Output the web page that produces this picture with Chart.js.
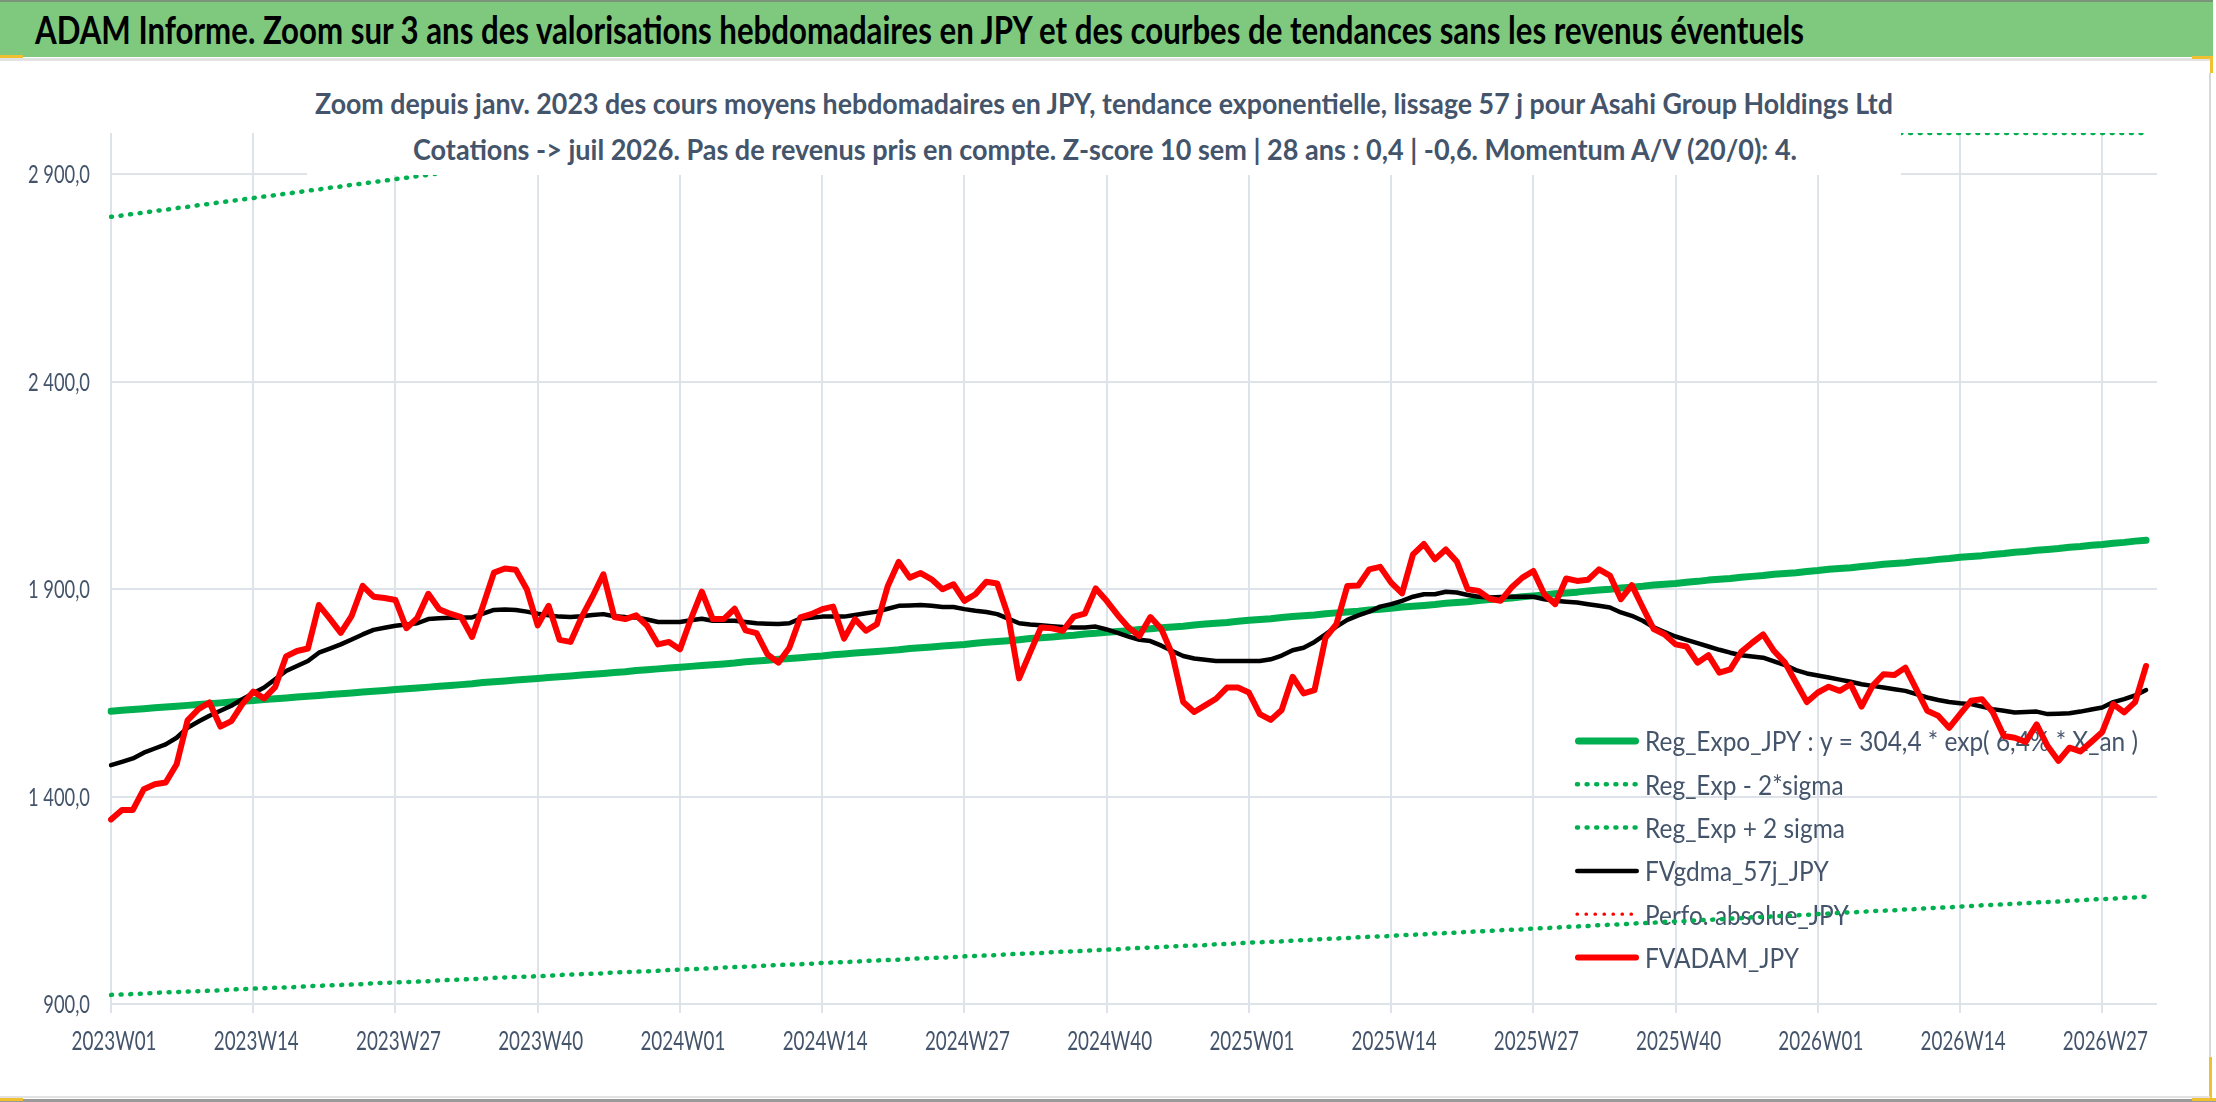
<!DOCTYPE html>
<html><head><meta charset="utf-8">
<script src="https://cdn.jsdelivr.net/npm/chart.js@4.4.1/dist/chart.umd.min.js"></script>
<style>
html,body{margin:0;padding:0;background:#fff;}
#wrap{position:relative;width:2216px;height:1102px;overflow:hidden;background:#fff;}
#cw{position:absolute;left:0;top:0;width:2216px;height:1102px;}
#band{position:absolute;left:0;top:0;width:2213px;height:55px;background:#7FC97F;border-top:2px solid #7A947A;}
.txt{position:absolute;white-space:nowrap;transform-origin:0 0;font-family:Lato,'Open Sans',sans-serif;line-height:1.2;}
#title{left:35px;top:7px;font-size:37.5px;font-weight:700;color:#000;}
#subbox{position:absolute;left:307px;top:62px;width:1594px;height:113px;background:#fff;}
.sub{font-size:29px;font-weight:700;color:#44546A;}
.ln{position:absolute;}
</style></head>
<body><div id="wrap">
<div id="cw"><canvas id="c"></canvas></div>
<div id="band"></div>
<div id="title" class="txt">ADAM Informe. Zoom sur 3 ans des valorisations hebdomadaires en JPY et des courbes de tendances sans les revenus éventuels</div>
<div id="subbox"></div>
<div id="sub1" class="txt sub">Zoom depuis janv. 2023 des cours moyens hebdomadaires en JPY, tendance exponentielle, lissage 57 j pour Asahi Group Holdings Ltd</div>
<div id="sub2" class="txt sub">Cotations -&gt; juil 2026. Pas de revenus pris en compte. Z-score 10 sem | 28 ans : 0,4 | -0,6. Momentum A/V (20/0): 4.</div>
<div class="ln" style="left:0;top:58px;width:2210px;height:3px;background:#E3E3E3;"></div>
<div class="ln" style="left:0;top:55px;width:23px;height:3px;background:#F0C030;"></div>
<div class="ln" style="left:2192px;top:56px;width:21px;height:3px;background:#F0C030;"></div>
<div class="ln" style="left:2210px;top:56px;width:3px;height:17px;background:#F0C030;"></div>
<div class="ln" style="left:2209px;top:73px;width:2px;height:984px;background:#D8D8D8;"></div>
<div class="ln" style="left:2209px;top:1057px;width:3px;height:41px;background:#F0C030;"></div>
<div class="ln" style="left:0;top:1096px;width:2210px;height:2px;background:#E2E2E2;"></div>
<div class="ln" style="left:0;top:1099px;width:2216px;height:3px;background:#9A9A9A;"></div>
<div class="ln" style="left:0;top:1098px;width:23px;height:3px;background:#F0C030;"></div>
<div class="ln" style="left:2192px;top:1098px;width:24px;height:3px;background:#F0C030;"></div>
</div>
<script>
// ---------------- DATA ----------------
const WEEKS = [
"2023W01","2023W02","2023W03","2023W04","2023W05","2023W06","2023W07","2023W08","2023W09","2023W10","2023W11","2023W12","2023W13",
"2023W14","2023W15","2023W16","2023W17","2023W18","2023W19","2023W20","2023W21","2023W22","2023W23","2023W24","2023W25","2023W26",
"2023W27","2023W28","2023W29","2023W30","2023W31","2023W32","2023W33","2023W34","2023W35","2023W36","2023W37","2023W38","2023W39",
"2023W40","2023W41","2023W42","2023W43","2023W44","2023W45","2023W46","2023W47","2023W48","2023W49","2023W50","2023W51","2023W52",
"2024W01","2024W02","2024W03","2024W04","2024W05","2024W06","2024W07","2024W08","2024W09","2024W10","2024W11","2024W12","2024W13",
"2024W14","2024W15","2024W16","2024W17","2024W18","2024W19","2024W20","2024W21","2024W22","2024W23","2024W24","2024W25","2024W26",
"2024W27","2024W28","2024W29","2024W30","2024W31","2024W32","2024W33","2024W34","2024W35","2024W36","2024W37","2024W38","2024W39",
"2024W40","2024W41","2024W42","2024W43","2024W44","2024W45","2024W46","2024W47","2024W48","2024W49","2024W50","2024W51","2024W52",
"2025W01","2025W02","2025W03","2025W04","2025W05","2025W06","2025W07","2025W08","2025W09","2025W10","2025W11","2025W12","2025W13",
"2025W14","2025W15","2025W16","2025W17","2025W18","2025W19","2025W20","2025W21","2025W22","2025W23","2025W24","2025W25","2025W26",
"2025W27","2025W28","2025W29","2025W30","2025W31","2025W32","2025W33","2025W34","2025W35","2025W36","2025W37","2025W38","2025W39",
"2025W40","2025W41","2025W42","2025W43","2025W44","2025W45","2025W46","2025W47","2025W48","2025W49","2025W50","2025W51","2025W52",
"2026W01","2026W02","2026W03","2026W04","2026W05","2026W06","2026W07","2026W08","2026W09","2026W10","2026W11","2026W12","2026W13",
"2026W14","2026W15","2026W16","2026W17","2026W18","2026W19","2026W20","2026W21","2026W22","2026W23","2026W24","2026W25","2026W26",
"2026W27","2026W28","2026W29","2026W30","2026W31","2026W32"];

const X_TICK_LABELS = ["2023W01","2023W14","2023W27","2023W40","2024W01","2024W14","2024W27","2024W40",
  "2025W01","2025W14","2025W27","2025W40","2026W01","2026W14","2026W27"];
const Y_TICKS = [900,1400,1900,2400,2900];
const Y_TICK_LABELS = ["900,0","1 400,0","1 900,0","2 400,0","2 900,0"];
const Y_MIN = 900, Y_MAX = 3000;

// FVADAM_JPY (weekly)
const FVADAM = [
1345,1368,1368,1418,1430,1434,1478,1584,1611,1627,1569,1582,1623,1653,1637,1664,1738,1751,1757,1862,
1829,1795,1836,1908,1882,1879,1874,1806,1831,1889,1852,1841,1833,1785,1860,1940,1950,1947,1900,1813,
1860,1778,1773,1832,1882,1936,1833,1828,1837,1812,1767,1773,1755,1828,1894,1828,1828,1853,1801,1794,
1743,1723,1759,1832,1840,1852,1858,1781,1828,1800,1816,1908,1966,1928,1939,1924,1900,1912,1872,1888,
1918,1914,1836,1685,1747,1808,1806,1800,1834,1841,1902,1872,1838,1808,1787,1833,1804,1743,1628,1604,
1620,1636,1663,1663,1651,1599,1585,1609,1689,1649,1657,1783,1816,1908,1909,1948,1954,1916,1890,1984,
2009,1972,1996,1967,1900,1896,1877,1872,1904,1928,1944,1888,1864,1926,1920,1923,1948,1933,1876,1910,
1856,1804,1791,1767,1762,1723,1741,1699,1707,1749,1771,1791,1751,1723,1675,1628,1651,1665,1655,1671,
1617,1667,1695,1693,1711,1659,1607,1595,1566,1599,1631,1635,1603,1546,1542,1532,1574,1522,1486,1518,
1509,1532,1556,1623,1603,1628,1715];

// FVgdma_57j_JPY
const FVGDMA = [
1476,1484,1492,1506,1516,1526,1542,1566,1581,1595,1607,1619,1635,1649,1663,1683,1703,1715,1727,1747,
1757,1767,1779,1791,1802,1807,1812,1815,1818,1828,1830,1831,1832,1832,1841,1850,1851,1850,1846,1841,
1837,1834,1833,1835,1838,1840,1835,1833,1832,1827,1821,1821,1821,1825,1829,1824,1824,1824,1821,1818,
1817,1816,1818,1829,1831,1834,1834,1834,1838,1842,1846,1853,1860,1861,1862,1860,1857,1857,1852,1848,
1845,1840,1829,1818,1815,1813,1811,1809,1808,1808,1810,1803,1795,1786,1778,1775,1764,1751,1739,1733,
1730,1727,1727,1727,1727,1727,1731,1740,1753,1759,1773,1791,1810,1826,1837,1846,1858,1864,1872,1882,
1888,1888,1894,1892,1886,1882,1880,1881,1882,1882,1882,1876,1872,1870,1868,1864,1860,1856,1844,1836,
1824,1808,1797,1786,1778,1770,1762,1754,1747,1741,1738,1735,1726,1717,1705,1697,1692,1687,1682,1677,
1671,1667,1663,1659,1655,1647,1639,1633,1628,1625,1623,1617,1611,1607,1603,1604,1605,1599,1600,1601,
1605,1610,1615,1628,1635,1644,1657];

// Reg_Expo_JPY
const REG_EXPO = [
1606,1608,1610,1612,1614,1616,1618,1620,1622,1624,1626,1628,1630,1632,
1634,1636,1638,1640,1642,1644,1646,1648,1650,1652,1654,1656,1658,
1660,1662,1664,1666,1668,1670,1672,1675,1677,1679,1681,1683,1685,
1687,1689,1691,1693,1695,1697,1699,1701,1704,1706,1708,1710,1712,
1714,1716,1718,1720,1722,1725,1727,1729,1731,1733,1735,1737,1739,
1742,1744,1746,1748,1750,1752,1754,1757,1759,1761,1763,1765,1767,
1770,1772,1774,1776,1778,1781,1783,1785,1787,1789,1792,1794,1796,
1798,1800,1803,1805,1807,1809,1811,1814,1816,1818,1820,1823,1825,
1827,1829,1832,1834,1836,1838,1841,1843,1845,1847,1850,1852,1854,
1857,1859,1861,1863,1866,1868,1870,1873,1875,1877,1879,1882,1884,
1886,1889,1891,1893,1896,1898,1900,1903,1905,1907,1910,1912,1914,
1917,1919,1922,1924,1926,1929,1931,1933,1936,1938,1940,1943,1945,
1948,1950,1952,1955,1957,1960,1962,1964,1967,1969,1972,1974,1977,
1979,1981,1984,1986,1989,1991,1994,1996,1998,2001,2003,2006,2008,
2011,2013,2016,2018];

// Reg_Exp - 2*sigma
const REG_LOW = [
922,923,924,925,927,928,929,930,931,932,933,935,936,937,
938,939,940,941,943,944,945,946,947,948,950,951,952,
953,954,955,957,958,959,960,961,963,964,965,966,967,
968,970,971,972,973,974,976,977,978,979,980,982,983,
984,985,986,988,989,990,991,993,994,995,996,997,999,
1000,1001,1002,1004,1005,1006,1007,1009,1010,1011,1012,1013,1015,
1016,1017,1018,1020,1021,1022,1023,1025,1026,1027,1028,1030,1031,
1032,1034,1035,1036,1037,1039,1040,1041,1042,1044,1045,1046,1048,
1049,1050,1051,1053,1054,1055,1057,1058,1059,1061,1062,1063,1064,
1066,1067,1068,1070,1071,1072,1074,1075,1076,1078,1079,1080,1082,
1083,1084,1086,1087,1088,1090,1091,1092,1094,1095,1096,1098,1099,
1100,1102,1103,1104,1106,1107,1109,1110,1111,1113,1114,1115,1117,
1118,1120,1121,1122,1124,1125,1126,1128,1129,1131,1132,1133,1135,
1136,1138,1139,1140,1142,1143,1145,1146,1147,1149,1150,1152,1153,
1154,1156,1157,1159];

// Reg_Exp + 2 sigma
const REG_HIGH = [
2798,2801,2805,2808,2812,2815,2819,2822,2826,2829,2833,2836,2840,2843,
2847,2850,2854,2857,2861,2864,2868,2871,2875,2878,2882,2885,2889,
2892,2896,2899,2903,2907,2910,2914,2917,2921,2925,2928,2932,2935,
2939,2943,2946,2950,2953,2957,2961,2964,2968,2972,2975,2979,2983,
2986,2990,2994,2997,3001,3005,3008,3012,3016,3019,3023,3027,3030,
3034,3038,3042,3045,3049,3053,3057,3060,3064,3068,3072,3075,3079,
3083,3087,3091,3094,3098,3102,3106,3110,3114,3117,3121,3125,3129,
3133,3137,3140,3144,3148,3152,3156,3160,3164,3168,3171,3175,3179,
3183,3187,3191,3195,3199,3203,3207,3211,3215,3219,3223,3226,3230,
3234,3238,3242,3246,3250,3254,3258,3262,3266,3270,3274,3278,3282,
3286,3290,3295,3299,3303,3307,3311,3315,3319,3323,3327,3331,3335,
3339,3344,3348,3352,3356,3360,3364,3368,3372,3377,3381,3385,3389,
3393,3397,3402,3406,3410,3414,3418,3423,3427,3431,3435,3439,3444,
3448,3452,3456,3461,3465,3469,3473,3478,3482,3486,3490,3495,3499,
3503,3508,3512,3516];

const PERFO_ABS = []; // not visible in the zoom window

// ---------------- STYLE ----------------
const GRID = 'rgb(222,226,233)';
const TXT = '#44546A';
const GREEN = '#00B050';
const FONT = 'Lato, "Open Sans", sans-serif';

function fit(id, left, width){
  const el = document.getElementById(id);
  el.style.transform = 'none';
  const w = el.getBoundingClientRect().width;
  el.style.left = left + 'px';
  el.style.transform = 'scaleX(' + (width / w) + ')';
}
function fitAll(){
  fit('title', 35, 1769);
  const s1 = document.getElementById('sub1'), s2 = document.getElementById('sub2');
  s1.style.top = '86px'; s2.style.top = '132px';
  fit('sub1', 315, 1578);
  fit('sub2', 413, 1384);
}
fitAll();

const LEG_X0 = 1575, LEG_X1 = 1639, LEG_TX = 1645, LEG_Y0 = 742, LEG_DY = 43.3, LEG_FS = 26;

const overlay = {
  id: 'overlay',
  beforeDatasetsDraw(chart){
    const ctx = chart.ctx;
    ctx.save();
    ctx.font = LEG_FS + 'px ' + FONT;
    const sx = 493 / ctx.measureText(chart.data.datasets[0].label).width;
    chart.data.datasets.forEach((ds, k) => {
      const y = LEG_Y0 + k * LEG_DY;
      const lw = ds.legendWidth || ds.borderWidth;
      ctx.save();
      ctx.strokeStyle = ds.borderColor;
      ctx.lineWidth = lw;
      ctx.lineCap = 'round';
      ctx.setLineDash(ds.borderDash || []);
      ctx.beginPath();
      const pad = (ds.borderDash && ds.borderDash.length) ? 2 : lw / 2;
      ctx.moveTo(LEG_X0 + pad, y - 1);
      ctx.lineTo(LEG_X1 - pad, y - 1);
      ctx.stroke();
      ctx.restore();
      ctx.save();
      ctx.fillStyle = TXT;
      ctx.textBaseline = 'alphabetic';
      ctx.translate(LEG_TX, y + 0.358 * LEG_FS);
      ctx.scale(sx, 1);
      ctx.fillText(ds.label, 0, 0);
      ctx.restore();
    });
    ctx.restore();
  },
  afterDraw(chart){
    const ctx = chart.ctx, xs = chart.scales.x, ys = chart.scales.y;
    ctx.save();
    ctx.fillStyle = TXT;
    ctx.textBaseline = 'alphabetic';
    ctx.font = '26.5px ' + FONT;
    const sx = 85 / ctx.measureText('2025W01').width;
    X_TICK_LABELS.forEach(lab => {
      const x = xs.getPixelForValue(WEEKS.indexOf(lab)) + 3;
      const w = ctx.measureText(lab).width * sx;
      ctx.save();
      ctx.translate(x - w / 2, 1041 + 0.358 * 26.5);
      ctx.scale(sx, 1);
      ctx.fillText(lab, 0, 0);
      ctx.restore();
    });
    ctx.font = '25px ' + FONT;
    const sy = 62 / ctx.measureText('1 900,0').width;
    Y_TICKS.forEach((v, k) => {
      const lab = Y_TICK_LABELS[k];
      const y = ys.getPixelForValue(v);
      const w = ctx.measureText(lab).width * sy;
      ctx.save();
      ctx.translate(90 - w, y + 0.358 * 25);
      ctx.scale(sy, 1);
      ctx.fillText(lab, 0, 0);
      ctx.restore();
    });
    ctx.restore();
  }
};

const isTick = c => X_TICK_LABELS.includes(WEEKS[c.index]);

Chart.defaults.font.family = FONT;
new Chart(document.getElementById('c'), {
  type: 'line',
  data: {
    labels: WEEKS,
    datasets: [
      { label: 'Reg_Expo_JPY : y = 304,4 * exp( 6,4% * X_an )', data: REG_EXPO,
        borderColor: GREEN, borderWidth: 7, borderCapStyle: 'round', order: 2 },
      { label: 'Reg_Exp - 2*sigma', data: REG_LOW,
        borderColor: GREEN, borderWidth: 4.5, borderDash: [1, 8.6], borderCapStyle: 'round', order: 3 },
      { label: 'Reg_Exp + 2 sigma', data: REG_HIGH.map(v => Math.min(v, Y_MAX)),
        borderColor: GREEN, borderWidth: 4.5, borderDash: [1, 8.6], borderCapStyle: 'round', order: 3 },
      { label: 'FVgdma_57j_JPY', data: FVGDMA,
        borderColor: '#000000', borderWidth: 4.5, borderCapStyle: 'round', order: 1 },
      { label: 'Perfo. absolue_JPY', data: PERFO_ABS,
        borderColor: '#FF0000', borderWidth: 3.2, borderDash: [0.5, 8.5], borderCapStyle: 'round', order: 1 },
      { label: 'FVADAM_JPY', data: FVADAM,
        borderColor: '#FF0000', borderWidth: 6, borderCapStyle: 'round', order: 0 }
    ]
  },
  options: {
    responsive: true,
    maintainAspectRatio: false,
    animation: false,
    layout: { padding: { top: 133, right: 59, left: 0, bottom: 0 } },
    elements: {
      point: { radius: 0, hoverRadius: 0 },
      line: { tension: 0, borderJoinStyle: 'round', fill: false }
    },
    plugins: { legend: { display: false }, tooltip: { enabled: false }, title: { display: false } },
    scales: {
      x: {
        type: 'category',
        offset: false,
        ticks: { display: false, autoSkip: false },
        grid: { color: c => isTick(c) ? GRID : 'rgba(0,0,0,0)', tickColor: c => isTick(c) ? GRID : 'rgba(0,0,0,0)',
                lineWidth: 2, drawTicks: true, tickLength: 9, offset: false },
        border: { display: false },
        afterFit: s => { s.height = 98; }
      },
      y: {
        type: 'linear',
        min: Y_MIN, max: Y_MAX,
        ticks: { display: false },
        afterBuildTicks: s => { s.ticks = Y_TICKS.map(v => ({ value: v })); },
        grid: { color: GRID, lineWidth: 2, drawTicks: false },
        border: { display: false },
        afterFit: s => { s.width = 111; }
      }
    }
  },
  plugins: [overlay]
});
</script>
</body></html>
